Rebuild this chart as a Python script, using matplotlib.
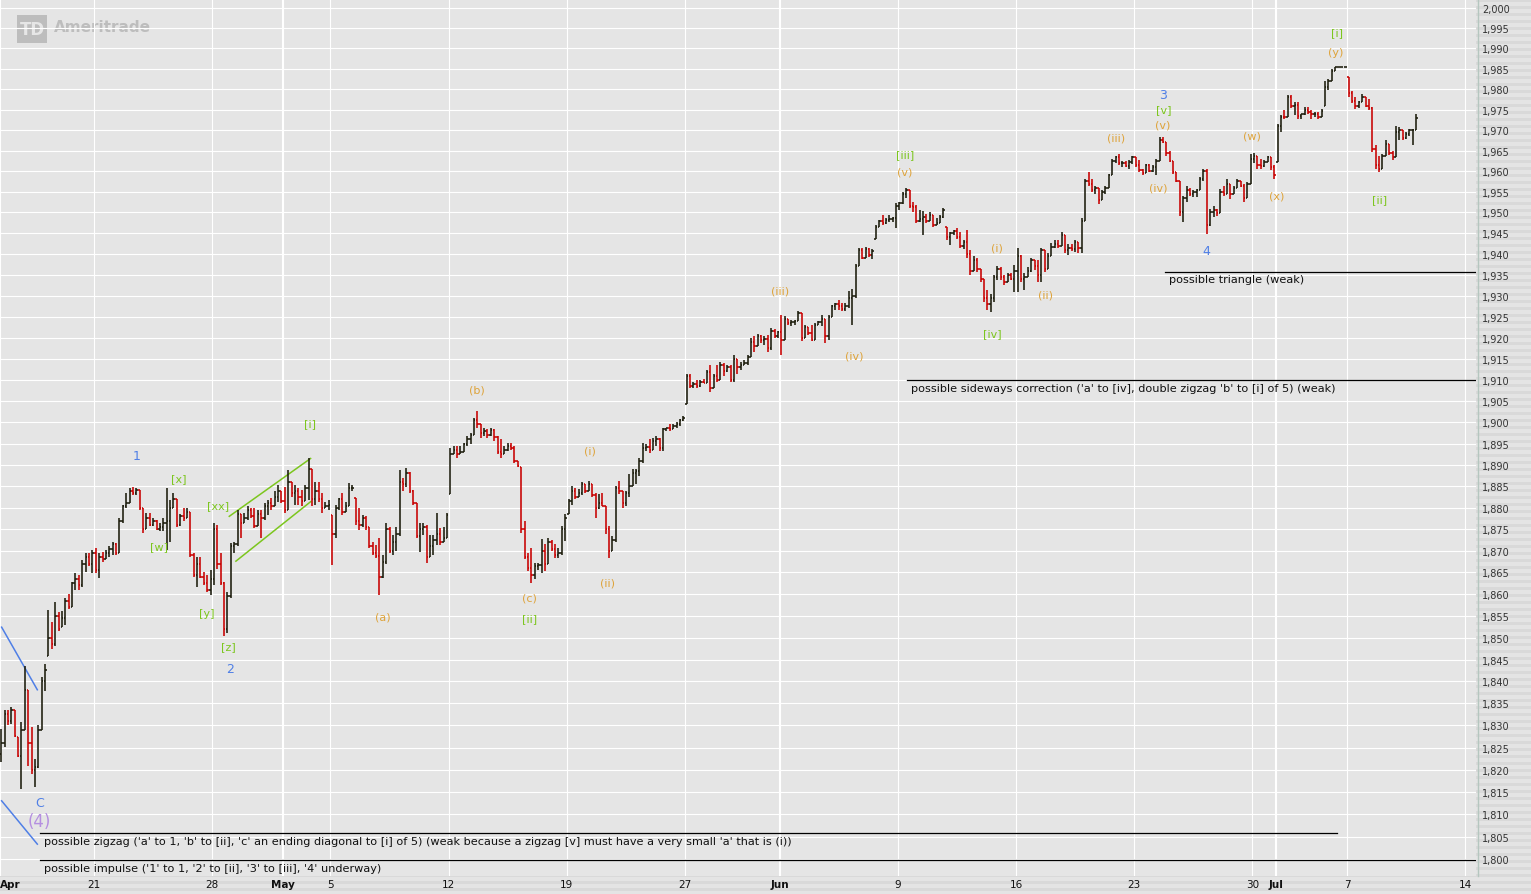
import matplotlib
matplotlib.use('Agg')
import matplotlib.pyplot as plt
import matplotlib.ticker as mticker
import matplotlib.transforms as mtransforms
from matplotlib.collections import LineCollection
from matplotlib.patches import Rectangle

# hourly bars (high, low, close), one row of 7 per trading day
apr_bars = [
    [(1829.2, 1821.7, 1826.0), (1833.6, 1825.1, 1832.5), (1833.4, 1830.0, 1831.0), (1834.2, 1830.4, 1833.5), (1833.5, 1827.3, 1827.5), (1827.3, 1822.8, 1823.2), (1830.8, 1815.6, 1829.0)],
    [(1843.6, 1829.0, 1838.0), (1838.0, 1820.9, 1826.0), (1829.6, 1819.0, 1820.0), (1822.4, 1816.0, 1820.5), (1830.0, 1820.4, 1829.0), (1841.0, 1829.0, 1840.0), (1844.0, 1837.9, 1842.5)],
    [(1856.4, 1845.8, 1850.0), (1853.5, 1847.3, 1848.5), (1858.2, 1848.0, 1855.0), (1855.9, 1851.6, 1852.0), (1856.2, 1852.4, 1854.5), (1859.0, 1853.0, 1858.5), (1860.1, 1856.6, 1857.0)],
    [(1862.8, 1857.0, 1862.5), (1864.8, 1860.9, 1863.5), (1864.5, 1861.0, 1862.0), (1867.9, 1861.7, 1867.0), (1869.4, 1865.2, 1868.5), (1869.4, 1866.5, 1867.0), (1870.2, 1864.8, 1869.5)],
    [(1870.6, 1864.8, 1865.5), (1869.4, 1863.6, 1868.5), (1869.8, 1867.3, 1868.0), (1870.2, 1868.0, 1869.5), (1871.0, 1868.6, 1870.5), (1872.1, 1869.0, 1871.5), (1871.8, 1869.0, 1869.5)],
    [(1877.6, 1869.5, 1877.0), (1880.7, 1876.5, 1880.5), (1883.5, 1880.0, 1881.0), (1884.5, 1881.0, 1884.0), (1884.9, 1882.9, 1883.5), (1884.5, 1883.0, 1884.2), (1884.2, 1879.5, 1880.0)],
    [(1880.0, 1874.1, 1875.0), (1878.7, 1875.0, 1877.5), (1878.7, 1875.8, 1876.0), (1877.6, 1875.8, 1877.0), (1877.2, 1874.8, 1875.0), (1876.4, 1874.5, 1875.5), (1877.6, 1874.5, 1876.5)],
    [(1884.5, 1870.2, 1877.0), (1881.8, 1872.1, 1880.0), (1883.4, 1880.0, 1882.0), (1882.0, 1875.6, 1876.0), (1878.5, 1875.8, 1878.0), (1879.9, 1876.8, 1877.5), (1879.9, 1877.5, 1879.0)],
    [(1879.0, 1868.6, 1869.0), (1869.4, 1864.0, 1864.5), (1868.6, 1861.7, 1867.0), (1868.6, 1863.6, 1864.0), (1865.2, 1862.1, 1862.5), (1864.4, 1860.5, 1861.0), (1865.6, 1859.7, 1863.5)],
    [(1876.4, 1862.1, 1875.0), (1876.0, 1865.9, 1867.0), (1869.4, 1862.1, 1862.5), (1862.8, 1850.4, 1852.0), (1860.5, 1851.0, 1859.5), (1871.7, 1859.0, 1871.0), (1872.1, 1869.4, 1871.5)],
    [(1879.5, 1871.0, 1878.5), (1878.5, 1873.0, 1876.5), (1878.7, 1876.5, 1877.5), (1880.3, 1877.2, 1879.5), (1879.9, 1877.6, 1878.0), (1879.9, 1875.2, 1875.8), (1879.5, 1875.8, 1878.5)],
    [(1879.5, 1872.9, 1877.5), (1881.0, 1877.2, 1880.5), (1881.8, 1878.3, 1881.0), (1882.2, 1879.5, 1880.5), (1883.8, 1880.5, 1882.5), (1885.3, 1881.4, 1884.0), (1884.0, 1881.0, 1881.5)],
]
may_bars = [
    [(1884.9, 1878.7, 1879.5), (1888.8, 1879.5, 1886.0), (1886.0, 1882.6, 1883.5), (1885.3, 1880.7, 1884.0), (1884.5, 1880.7, 1882.5), (1884.1, 1880.3, 1881.5), (1885.3, 1881.5, 1884.5)],
    [(1891.5, 1881.8, 1889.0), (1889.0, 1880.3, 1882.0), (1886.0, 1880.7, 1884.0), (1886.0, 1881.4, 1882.0), (1883.4, 1878.7, 1880.0), (1881.4, 1879.9, 1880.5), (1881.8, 1879.5, 1880.6)],
    [(1878.3, 1866.7, 1874.0), (1880.7, 1873.0, 1880.0), (1882.2, 1879.5, 1882.0), (1883.4, 1878.3, 1879.0), (1881.4, 1879.0, 1880.5), (1885.7, 1880.5, 1884.5), (1885.3, 1883.8, 1884.7)],
    [(1882.2, 1876.0, 1877.0), (1879.9, 1874.9, 1876.0), (1878.3, 1875.5, 1877.5), (1878.0, 1874.9, 1875.5), (1875.5, 1870.6, 1871.0), (1872.1, 1869.0, 1869.5), (1871.4, 1868.3, 1868.7)],
    [(1873.0, 1859.7, 1864.0), (1869.0, 1863.6, 1867.5), (1876.4, 1867.0, 1875.0), (1875.6, 1869.4, 1870.0), (1873.7, 1869.0, 1872.0), (1875.6, 1870.0, 1874.0), (1888.8, 1873.5, 1886.0)],
    [(1886.9, 1883.8, 1885.5), (1889.2, 1884.9, 1888.0), (1888.4, 1883.4, 1884.0), (1884.1, 1880.7, 1881.0), (1881.0, 1872.9, 1873.5), (1876.4, 1869.8, 1875.0), (1876.4, 1873.7, 1875.5)],
    [(1876.0, 1867.1, 1868.5), (1873.7, 1868.5, 1871.0), (1873.7, 1869.0, 1872.5), (1878.7, 1871.4, 1874.0), (1875.2, 1871.4, 1872.0), (1875.5, 1872.0, 1873.0), (1878.7, 1873.0, 1878.3)],
    [(1894.0, 1883.2, 1892.5), (1894.4, 1892.5, 1893.5), (1894.4, 1891.7, 1892.5), (1894.4, 1892.5, 1893.0), (1895.2, 1893.0, 1894.8), (1896.8, 1894.4, 1896.0), (1897.5, 1895.0, 1897.0)],
    [(1901.0, 1897.0, 1900.5), (1902.6, 1898.7, 1899.5), (1899.5, 1896.4, 1897.5), (1898.7, 1896.8, 1898.0), (1898.3, 1896.4, 1897.0), (1898.7, 1896.8, 1898.2), (1898.3, 1895.6, 1896.5)],
    [(1896.8, 1892.5, 1893.0), (1896.0, 1891.7, 1892.5), (1894.4, 1892.5, 1893.5), (1895.2, 1893.3, 1894.5), (1895.2, 1893.6, 1894.0), (1894.4, 1890.5, 1891.0), (1891.0, 1889.4, 1889.8)],
    [(1889.5, 1874.2, 1875.0), (1876.9, 1868.0, 1868.5), (1869.5, 1865.3, 1866.0), (1870.7, 1862.5, 1864.5), (1867.1, 1863.5, 1866.5), (1867.1, 1865.5, 1866.8), (1872.8, 1864.9, 1870.0)],
    [(1871.5, 1865.3, 1867.0), (1873.0, 1867.0, 1872.0), (1872.6, 1870.0, 1870.5), (1871.5, 1868.4, 1869.0), (1870.7, 1868.4, 1869.5), (1875.8, 1869.0, 1875.0), (1878.5, 1872.3, 1877.5)],
    [(1882.0, 1878.5, 1881.5), (1885.1, 1880.7, 1884.0), (1884.7, 1882.0, 1882.5), (1884.3, 1882.4, 1883.5), (1885.9, 1883.0, 1885.5), (1885.5, 1883.5, 1884.0), (1886.3, 1884.0, 1885.5)],
    [(1885.5, 1882.5, 1883.0), (1883.5, 1877.7, 1880.0), (1883.2, 1879.8, 1881.0), (1883.5, 1880.4, 1880.5), (1880.5, 1873.8, 1875.0), (1875.8, 1868.4, 1870.0), (1873.4, 1869.9, 1872.5)],
    [(1885.1, 1872.0, 1884.5), (1886.3, 1883.2, 1884.0), (1884.0, 1880.0, 1881.0), (1884.0, 1880.4, 1883.5), (1887.8, 1882.4, 1885.0), (1889.0, 1885.0, 1888.0), (1889.0, 1885.5, 1888.5)],
    [(1891.7, 1887.5, 1891.0), (1895.2, 1890.5, 1894.0), (1895.0, 1893.3, 1894.2), (1896.0, 1892.9, 1893.5), (1896.4, 1893.5, 1895.5), (1896.8, 1894.4, 1896.0), (1896.4, 1893.3, 1894.0)],
    [(1898.7, 1893.3, 1898.5), (1898.7, 1897.9, 1898.6), (1899.5, 1898.0, 1898.5), (1899.5, 1898.3, 1899.2), (1900.0, 1898.7, 1899.5), (1900.7, 1899.1, 1900.5), (1901.4, 1900.3, 1901.0)],
    [(1911.5, 1904.4, 1911.0), (1911.5, 1908.0, 1908.5), (1909.5, 1908.0, 1909.0), (1909.9, 1908.0, 1908.5), (1909.9, 1908.4, 1909.5), (1910.3, 1909.2, 1909.3), (1912.3, 1909.3, 1911.8)],
    [(1913.5, 1907.1, 1908.0), (1911.5, 1908.0, 1911.0), (1913.5, 1909.5, 1910.0), (1914.3, 1910.0, 1913.5), (1913.9, 1911.0, 1912.0), (1913.5, 1911.9, 1913.0), (1913.6, 1909.5, 1910.0)],
    [(1916.0, 1909.5, 1915.0), (1915.0, 1911.5, 1913.0), (1914.3, 1912.3, 1913.5), (1914.7, 1913.5, 1914.0), (1915.9, 1913.5, 1915.5), (1919.9, 1915.5, 1919.0), (1920.3, 1916.7, 1918.0)],
    [(1920.9, 1918.0, 1920.5), (1920.6, 1918.7, 1919.5), (1920.3, 1918.3, 1919.8), (1920.6, 1916.7, 1917.5), (1922.3, 1917.0, 1921.5), (1922.0, 1920.0, 1920.5), (1921.6, 1920.0, 1921.3)],
]
jun_bars = [
    [(1925.5, 1916.0, 1919.5), (1925.1, 1919.5, 1924.5), (1924.5, 1923.1, 1923.5), (1924.3, 1922.7, 1923.8), (1924.3, 1923.0, 1924.0), (1926.3, 1924.0, 1925.8), (1925.8, 1919.1, 1920.0)],
    [(1923.1, 1919.9, 1922.5), (1922.5, 1920.6, 1921.0), (1923.1, 1919.1, 1919.5), (1923.5, 1919.5, 1923.0), (1924.0, 1923.0, 1923.8), (1925.5, 1922.7, 1924.5), (1924.5, 1918.7, 1920.5)],
    [(1925.5, 1919.5, 1925.0), (1927.9, 1925.0, 1927.5), (1928.3, 1926.7, 1928.0), (1929.1, 1926.7, 1927.5), (1928.3, 1926.3, 1926.8), (1928.3, 1926.3, 1927.5), (1931.1, 1927.1, 1929.5)],
    [(1931.5, 1923.1, 1930.0), (1937.5, 1929.5, 1937.0), (1941.5, 1937.0, 1941.0), (1941.5, 1938.7, 1939.0), (1941.8, 1939.0, 1941.3), (1941.5, 1939.2, 1939.8), (1941.2, 1938.7, 1940.8)],
    [(1947.0, 1943.5, 1946.5), (1948.2, 1946.5, 1948.0), (1949.4, 1947.0, 1947.5), (1948.6, 1947.2, 1948.2), (1949.4, 1947.8, 1948.5), (1949.0, 1947.8, 1948.6), (1952.2, 1946.3, 1951.5)],
    [(1952.6, 1950.6, 1952.3), (1955.0, 1952.0, 1954.5), (1955.8, 1953.4, 1955.5), (1955.5, 1951.0, 1951.5), (1952.6, 1950.2, 1951.3), (1951.8, 1947.4, 1948.0), (1950.6, 1947.8, 1948.5)],
    [(1950.4, 1944.6, 1949.0), (1949.6, 1947.4, 1948.0), (1950.0, 1948.0, 1949.5), (1949.5, 1946.6, 1947.0), (1948.6, 1947.0, 1947.5), (1949.4, 1947.5, 1949.0), (1951.0, 1948.6, 1950.5)],
    [(1946.6, 1943.4, 1944.0), (1945.4, 1942.2, 1945.0), (1945.8, 1944.6, 1945.5), (1946.2, 1943.6, 1944.0), (1945.4, 1941.4, 1942.0), (1943.4, 1941.2, 1942.8), (1945.8, 1939.0, 1940.0)],
    [(1941.0, 1935.0, 1936.0), (1939.4, 1936.0, 1938.5), (1939.0, 1935.8, 1936.5), (1936.5, 1933.4, 1934.0), (1934.0, 1928.6, 1929.5), (1931.4, 1926.5, 1928.0), (1930.5, 1926.2, 1929.5)],
    [(1935.0, 1928.5, 1934.5), (1937.0, 1933.8, 1936.5), (1936.8, 1933.8, 1934.5), (1935.0, 1932.6, 1933.2), (1935.5, 1933.2, 1935.0), (1935.4, 1933.8, 1934.0), (1937.4, 1931.0, 1936.0)],
    [(1941.4, 1931.0, 1939.5), (1939.8, 1933.4, 1934.0), (1935.4, 1931.4, 1934.5), (1936.8, 1934.5, 1936.0), (1939.0, 1935.8, 1938.5), (1938.6, 1936.2, 1937.0), (1938.6, 1933.4, 1935.0)],
    [(1941.4, 1933.4, 1941.0), (1941.0, 1935.8, 1936.5), (1940.2, 1936.5, 1939.5), (1942.6, 1939.5, 1941.8), (1943.4, 1941.4, 1942.5), (1943.4, 1941.4, 1942.0), (1945.4, 1942.0, 1944.5)],
    [(1944.5, 1940.2, 1941.0), (1942.5, 1939.8, 1941.5), (1942.5, 1940.8, 1941.2), (1943.4, 1940.6, 1943.0), (1943.0, 1940.2, 1941.5), (1948.6, 1940.2, 1948.0), (1958.0, 1948.0, 1957.5)],
    [(1959.8, 1956.5, 1957.0), (1958.1, 1954.9, 1955.5), (1956.5, 1954.5, 1955.8), (1955.8, 1952.1, 1953.0), (1955.5, 1953.0, 1955.0), (1956.5, 1954.5, 1956.0), (1959.4, 1956.0, 1959.0)],
    [(1963.0, 1959.0, 1962.5), (1963.8, 1962.0, 1963.5), (1964.2, 1961.5, 1962.0), (1962.5, 1961.0, 1962.0), (1962.5, 1961.0, 1961.2), (1962.6, 1960.5, 1962.2), (1963.8, 1961.8, 1963.5)],
    [(1963.5, 1961.0, 1961.5), (1962.6, 1959.8, 1960.2), (1960.6, 1959.0, 1959.5), (1961.8, 1959.5, 1961.5), (1961.8, 1959.8, 1960.0), (1961.5, 1959.8, 1961.0), (1963.0, 1959.0, 1962.5)],
    [(1968.2, 1962.5, 1967.5), (1968.2, 1966.8, 1967.0), (1967.0, 1963.8, 1964.5), (1965.0, 1962.2, 1962.5), (1962.5, 1959.4, 1959.8), (1959.8, 1957.3, 1957.5), (1957.7, 1949.2, 1950.0)],
    [(1954.0, 1947.6, 1953.5), (1956.5, 1952.5, 1955.5), (1956.0, 1954.0, 1954.5), (1955.4, 1953.7, 1955.0), (1955.6, 1953.7, 1955.4), (1958.5, 1955.4, 1958.0), (1960.6, 1957.7, 1960.0)],
    [(1960.6, 1944.8, 1947.0), (1950.8, 1946.8, 1950.0), (1951.5, 1948.8, 1950.5), (1950.8, 1949.2, 1949.8), (1955.7, 1949.8, 1955.0), (1956.5, 1954.1, 1954.5), (1958.1, 1954.5, 1957.0)],
    [(1957.0, 1953.3, 1954.5), (1956.5, 1954.5, 1956.0), (1958.1, 1956.0, 1957.5), (1957.5, 1956.1, 1956.5), (1956.9, 1952.5, 1953.5), (1957.3, 1953.5, 1957.0), (1964.2, 1957.0, 1963.0)],
    [(1964.5, 1962.0, 1963.8), (1963.8, 1960.6, 1961.5), (1963.0, 1960.5, 1961.2), (1962.6, 1961.0, 1962.2), (1963.8, 1962.2, 1963.5), (1963.5, 1960.2, 1961.0), (1961.4, 1958.1, 1959.0)],
]
jul_bars = [
    [(1971.5, 1962.2, 1971.0), (1973.6, 1969.5, 1973.3), (1974.8, 1972.8, 1973.2), (1978.5, 1973.2, 1978.0), (1978.5, 1975.5, 1976.0), (1976.8, 1973.6, 1976.2), (1976.8, 1972.8, 1973.5)],
    [(1974.0, 1972.8, 1973.8), (1975.6, 1973.6, 1975.0), (1975.6, 1974.0, 1974.5), (1974.8, 1972.8, 1973.8), (1974.4, 1973.2, 1974.0), (1974.4, 1972.8, 1973.2), (1975.2, 1973.2, 1974.6)],
    [(1982.1, 1976.0, 1980.5), (1982.5, 1979.7, 1982.0), (1985.0, 1982.0, 1984.5), (1985.4, 1984.5, 1985.4), (1985.4, 1985.4, 1985.4), (1985.4, 1985.4, 1985.4), (1985.4, 1985.4, 1985.4)],
    [(1982.9, 1978.0, 1979.0), (1979.5, 1976.5, 1977.0), (1978.0, 1975.2, 1976.0), (1977.2, 1975.5, 1976.8), (1978.9, 1976.8, 1978.0), (1978.0, 1975.6, 1976.0), (1977.5, 1974.8, 1975.5)],
    [(1975.6, 1964.6, 1965.5), (1966.3, 1960.6, 1961.5), (1963.8, 1959.7, 1960.5), (1964.2, 1960.5, 1963.8), (1967.5, 1963.8, 1966.5), (1966.5, 1964.0, 1964.5), (1965.0, 1962.6, 1963.5)],
    [(1971.1, 1963.5, 1969.5), (1970.7, 1967.5, 1970.0), (1970.0, 1967.5, 1968.0), (1969.5, 1967.8, 1969.0), (1970.3, 1968.5, 1970.0), (1970.3, 1966.3, 1970.1), (1974.0, 1970.0, 1973.0)],
]
first_open = 1823.5

# x axis: trading-day index (Apr 14 = 0)
date_ticks = [0, 4, 9, 12, 14, 19, 24, 29, 33, 38, 43, 48, 53, 54, 57, 62]
date_labels = ['Apr', '21', '28', 'May', '5', '12', '19', '27', 'Jun', '9', '16', '23', '30', 'Jul', '7', '14']
months = ['Apr', 'May', 'Jun', 'Jul']
price_ticks = list(range(1800, 2001, 5))

colors = {'blue': '#4f7fe6', 'green': '#7cc61e', 'orange': '#dea33a', 'purple': '#b58fe0'}

# wave labels: text, day, price, colour, size
wave_labels = [
    ('1', 5.82, 1892.2, 'blue', 9), ('[x]', 7.59, 1887.0, 'green', 8),
    ('[w]', 6.75, 1871.0, 'green', 8), ('[xx]', 9.24, 1880.5, 'green', 8),
    ('[y]', 8.78, 1855.6, 'green', 8), ('[z]', 9.67, 1848.0, 'green', 8),
    ('2', 9.75, 1842.9, 'blue', 9), ('[i]', 13.13, 1899.7, 'green', 8),
    ('(a)', 16.22, 1854.9, 'orange', 8), ('(b)', 20.2, 1907.7, 'orange', 8),
    ('(c)', 22.4, 1859.2, 'orange', 8), ('[ii]', 22.44, 1854.4, 'green', 8),
    ('(i)', 24.98, 1893.3, 'orange', 8), ('(ii)', 25.7, 1862.7, 'orange', 8),
    ('(iii)', 33.0, 1931.3, 'orange', 8), ('(iv)', 36.15, 1915.7, 'orange', 8),
    ('[iii]', 38.3, 1964.2, 'green', 8), ('(v)', 38.3, 1959.9, 'orange', 8),
    ('(i)', 42.2, 1941.6, 'orange', 8), ('(ii)', 44.23, 1930.4, 'orange', 8),
    ('[iv]', 41.98, 1921.1, 'green', 8), ('(iii)', 47.23, 1968.3, 'orange', 8),
    ('3', 49.22, 1978.6, 'blue', 9), ('[v]', 49.26, 1975.2, 'green', 8),
    ('(v)', 49.22, 1971.3, 'orange', 8), ('(iv)', 49.0, 1956.0, 'orange', 8),
    ('4', 51.04, 1940.8, 'blue', 9), ('(w)', 53.0, 1968.6, 'orange', 8),
    ('(x)', 54.04, 1954.1, 'orange', 8), ('[i]', 56.58, 1994.1, 'green', 8),
    ('(y)', 56.54, 1989.1, 'orange', 8), ('[ii]', 58.4, 1953.3, 'green', 8),
    ('C', 1.71, 1812.6, 'blue', 9), ('(4)', 1.67, 1808.5, 'purple', 12),
]

# scenario notes: text, day, price ; and their underline: price, start day, end day
notes = [
    ("possible sideways correction ('a' to [iv], double zigzag 'b' to [i] of 5) (weak)", 38.56, 1908.1),
    ("possible triangle (weak)", 49.47, 1933.9),
    ("possible zigzag ('a' to 1, 'b' to [ii], 'c' an ending diagonal to [i] of 5) "
     "(weak because a zigzag [v] must have a very small 'a' that is (i))", 1.88, 1804.0),
    ("possible impulse ('1' to 1, '2' to [ii], '3' to [iii], '4' underway)", 1.88, 1798.0),
]
note_lines = [(1910.0, 38.39, 62.46), (1935.6, 49.3, 62.46), (1805.7, 1.71, 56.58), (1799.8, 1.71, 62.46)]

# drawn wave lines: (day, price) start, end, colour
trend_lines = [
    ((9.72, 1878.0), (13.16, 1891.5), 'green'),
    ((10.0, 1867.6), (13.16, 1881.4), 'green'),
    ((0.09, 1852.4), (1.6, 1838.1), 'blue'),
    ((0.09, 1813.0), (1.6, 1803.3), 'blue'),
]

W, H = 1531, 895
fig = plt.figure(figsize=(W / 100, H / 100), dpi=100)
fig.patch.set_facecolor('#e4e4e4')
pix = mtransforms.Affine2D().scale(1 / W, -1 / H).translate(0, 1) + fig.transFigure

# striped panel texture behind the axis labels
for y0 in range(0, H, 7):
    fig.patches.append(Rectangle((0, y0), W, 3, transform=pix, color='#d9d9d9', lw=0, zorder=-5))
fig.lines.append(plt.Line2D([1477.5, 1477.5], [0, 877], transform=pix, color='#b5c6bf', lw=1))

ax = fig.add_axes([0, 18 / H, 1476 / W, 877 / H])
ax.set_facecolor('#e5e5e5')
for s in ax.spines.values():
    s.set_visible(False)
ax.set_yscale('log')
ax.set_ylim(1796.2, 2002.23)
ax.set_xlim(0.021, 62.46)

# grid
for p in price_ticks:
    ax.axhline(p, color='white', lw=0.8, zorder=0.5)
for d, lab in zip(date_ticks, date_labels):
    ax.axvline(d, color='white', lw=1.5 if lab in months else 0.8, zorder=0.5)

ax.yaxis.tick_right()
ax.yaxis.set_major_locator(mticker.FixedLocator(price_ticks))
ax.yaxis.set_minor_locator(mticker.NullLocator())
ax.yaxis.set_major_formatter(mticker.FuncFormatter(lambda v, _: f'{v:,.0f}'))
ax.yaxis.set_minor_formatter(mticker.NullFormatter())
ax.tick_params(axis='y', length=0, pad=4.5, labelsize=7, labelcolor='#333333')
ax.set_xticks([])
for d, lab in zip(date_ticks, date_labels):
    ax.text(d, -0.009, lab, transform=ax.get_xaxis_transform(), ha='left' if lab == 'Apr' else 'center',
            va='center', fontsize=7.5, color='#111111', fontweight='bold' if lab in months else 'normal')

# logo watermark
ax.add_patch(Rectangle((17, 16), 30, 28, transform=pix, color='#bdbdbd', lw=0, zorder=0.3))
ax.text(32, 30, 'TD', transform=pix, ha='center', va='center', fontsize=12, fontweight='bold',
        color='#e6e6e6', zorder=0.35)
ax.text(54, 28, 'Ameritrade', transform=pix, ha='left', va='center', fontsize=11,
        fontweight='bold', color='#bdbdbd', zorder=0.35)

# OHLC bars
segs, cols = [], []
prev = first_open
for k, day in enumerate(apr_bars + may_bars + jun_bars + jul_bars):
    for j, (hi, lo, c) in enumerate(day):
        x = k + (j + 0.5) / 7
        o = min(max(prev, lo), hi)
        hi, lo = max(hi, c), min(lo, c)
        col = '#1c1c0c' if c >= o else '#c80000'
        segs += [[(x, lo), (x, hi)], [(x - 0.06, o), (x, o)], [(x, c), (x + 0.06, c)]]
        cols += [col] * 3
        prev = c
ax.add_collection(LineCollection(segs, colors=cols, linewidths=1.15, zorder=3))

for (d0, p0), (d1, p1), ck in trend_lines:
    ax.plot([d0, d1], [p0, p1], color=colors[ck], lw=1.1, zorder=2.5)

for p, d0, d1 in note_lines:
    ax.plot([d0, d1], [p, p], color='black', lw=0.9, zorder=2.6)
for txt, d, p in notes:
    ax.text(d, p, txt, ha='left', va='center', fontsize=8.1, color='#111111', zorder=4)

for txt, d, p, ck, sz in wave_labels:
    ax.text(d, p, txt, ha='center', va='center', fontsize=sz, color=colors[ck], zorder=4)

fig.savefig('out.png', dpi=100, facecolor=fig.get_facecolor())
